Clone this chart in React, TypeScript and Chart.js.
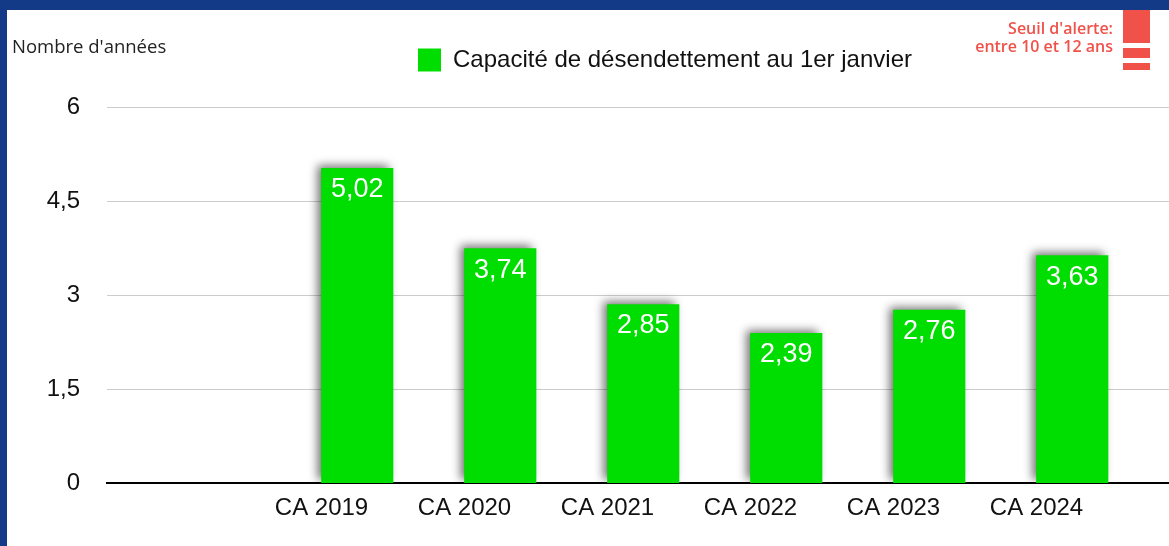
import React, { useEffect, useRef } from "react";
import { Chart, registerables } from "chart.js";

Chart.register(...registerables);

const categories = ["", "CA 2019", "CA 2020", "CA 2021", "CA 2022", "CA 2023", "CA 2024", ""];
const capacityValues = [null, 5.02, 3.74, 2.85, 2.39, 2.76, 3.63, null];
const placeholderValues = [null, null, null, null, null, null, null, null];
const yTickValues = [0, 1.5, 3, 4.5, 6];
const seriesLabel = "Capacité de désendettement au 1er janvier";
const axisTitle = "Nombre d'années";
const alertLines = ["Seuil d'alerte:", "entre 10 et 12 ans"];

const GREEN = "rgb(0,221,0)";
const BLUE = "#133a87";
const RED = "#f0524a";
const FONT = "'Liberation Sans', Arial, Helvetica, sans-serif";

const fmt = (v: number) => String(v).replace(".", ",");

const shadowLabelPlugin = {
  id: "shadowLabels",
  beforeDatasetsDraw(chart: any) {
    const ctx = chart.ctx;
    ctx.save();
    ctx.shadowColor = "rgba(0,0,0,0.55)";
    ctx.shadowBlur = 9;
    ctx.shadowOffsetX = -4;
    ctx.shadowOffsetY = -3;
  },
  afterDatasetsDraw(chart: any) {
    const ctx = chart.ctx;
    ctx.restore();
    const meta = chart.getDatasetMeta(1);
    const data = chart.data.datasets[1].data;
    ctx.save();
    ctx.fillStyle = "#ffffff";
    ctx.font = `27px ${FONT}`;
    ctx.textAlign = "center";
    ctx.textBaseline = "middle";
    meta.data.forEach((bar: any, i: number) => {
      const v = data[i];
      if (v === null || v === undefined) return;
      ctx.fillText(fmt(v), bar.x, bar.y + 21.5);
    });
    ctx.restore();
  },
};

export default function App() {
  const ref = useRef<HTMLCanvasElement | null>(null);

  useEffect(() => {
    if (!ref.current) return;
    const chart = new Chart(ref.current, {
      type: "bar",
      data: {
        labels: categories,
        datasets: [
          {
            label: "_placeholder",
            data: placeholderValues,
            backgroundColor: "rgba(0,0,0,0)",
          },
          {
            label: seriesLabel,
            data: capacityValues,
            backgroundColor: GREEN,
            borderWidth: 0,
          },
        ],
      },
      options: {
        responsive: false,
        animation: false,
        maintainAspectRatio: false,
        layout: { padding: { left: 0, right: 0, top: 38, bottom: 12 } },
        datasets: {
          bar: { categoryPercentage: 1, barPercentage: 1 },
        },
        plugins: {
          legend: {
            display: true,
            position: "top",
            labels: {
              boxWidth: 23,
              boxHeight: 23,
              padding: 10,
              color: "#111",
              font: { family: FONT, size: 24 },
              filter: (item: any) => item.datasetIndex === 1,
            },
          },
          subtitle: {
            display: true,
            text: "",
            weight: 500,
            font: { size: 10, lineHeight: 1 },
            padding: { top: 0, bottom: 15 },
          } as any,
          tooltip: { enabled: false },
        },
        scales: {
          x: {
            type: "category",
            offset: true,
            grid: { display: false, drawTicks: false },
            border: { display: true, color: "#000", width: 2 },
            ticks: {
              color: "#111",
              font: { family: FONT, size: 24 },
              padding: 11,
              maxRotation: 0,
              autoSkip: false,
            },
          },
          y: {
            min: 0,
            max: 6,
            position: "left",
            afterFit: (scale: any) => {
              scale.width = 107;
            },
            afterBuildTicks: (scale: any) => {
              scale.ticks = yTickValues.map((v) => ({ value: v }));
            },
            grid: {
              color: (c: any) => (c.tick && c.tick.value === 0 ? "rgba(0,0,0,0)" : "#cccccc"),
              lineWidth: 1,
              drawTicks: false,
            },
            border: { display: false },
            ticks: {
              color: "#111",
              font: { family: FONT, size: 24 },
              padding: 27,
              callback: (v: any) => fmt(Number(v)),
            },
          },
          yRight: {
            type: "linear",
            position: "right",
            min: 0,
            max: 1,
            afterFit: (scale: any) => {
              scale.width = 79;
            },
            grid: { display: false, drawTicks: false },
            border: { display: false },
            ticks: { display: false },
          },
        },
      },
      plugins: [shadowLabelPlugin],
    });
    return () => chart.destroy();
  }, []);

  return (
    <div
      style={{
        position: "fixed",
        left: 0,
        top: 0,
        width: 1169,
        height: 546,
        overflow: "hidden",
        background: "#ffffff",
      }}
    >
      <canvas
        ref={ref}
        width={1330}
        height={546}
        style={{ position: "absolute", left: 0, top: 0, width: 1330, height: 546 }}
      />
      <div style={{ position: "absolute", left: 0, top: 0, width: 1169, height: 10, background: BLUE }} />
      <div style={{ position: "absolute", left: 0, top: 0, width: 7, height: 546, background: BLUE }} />
      <div
        style={{
          position: "absolute",
          left: 12,
          top: 34,
          fontFamily: "'Open Sans', 'Noto Sans', sans-serif",
          fontSize: 18.5,
          color: "#222",
          whiteSpace: "nowrap",
          lineHeight: "24px",
        }}
      >
        {axisTitle}
      </div>
      <div
        style={{
          position: "absolute",
          right: 1169 - 1113,
          top: 19,
          fontFamily: "'Open Sans', 'Noto Sans', sans-serif",
          fontSize: 16,
          fontWeight: 600,
          color: RED,
          textAlign: "right",
          lineHeight: "18px",
          whiteSpace: "nowrap",
        }}
      >
        {alertLines.map((l, i) => (
          <div key={i}>{l}</div>
        ))}
      </div>
      <div style={{ position: "absolute", left: 1123, top: 10, width: 27, height: 33, background: RED }} />
      <div style={{ position: "absolute", left: 1123, top: 48, width: 27, height: 10, background: RED }} />
      <div style={{ position: "absolute", left: 1123, top: 63, width: 27, height: 7, background: RED }} />
    </div>
  );
}
